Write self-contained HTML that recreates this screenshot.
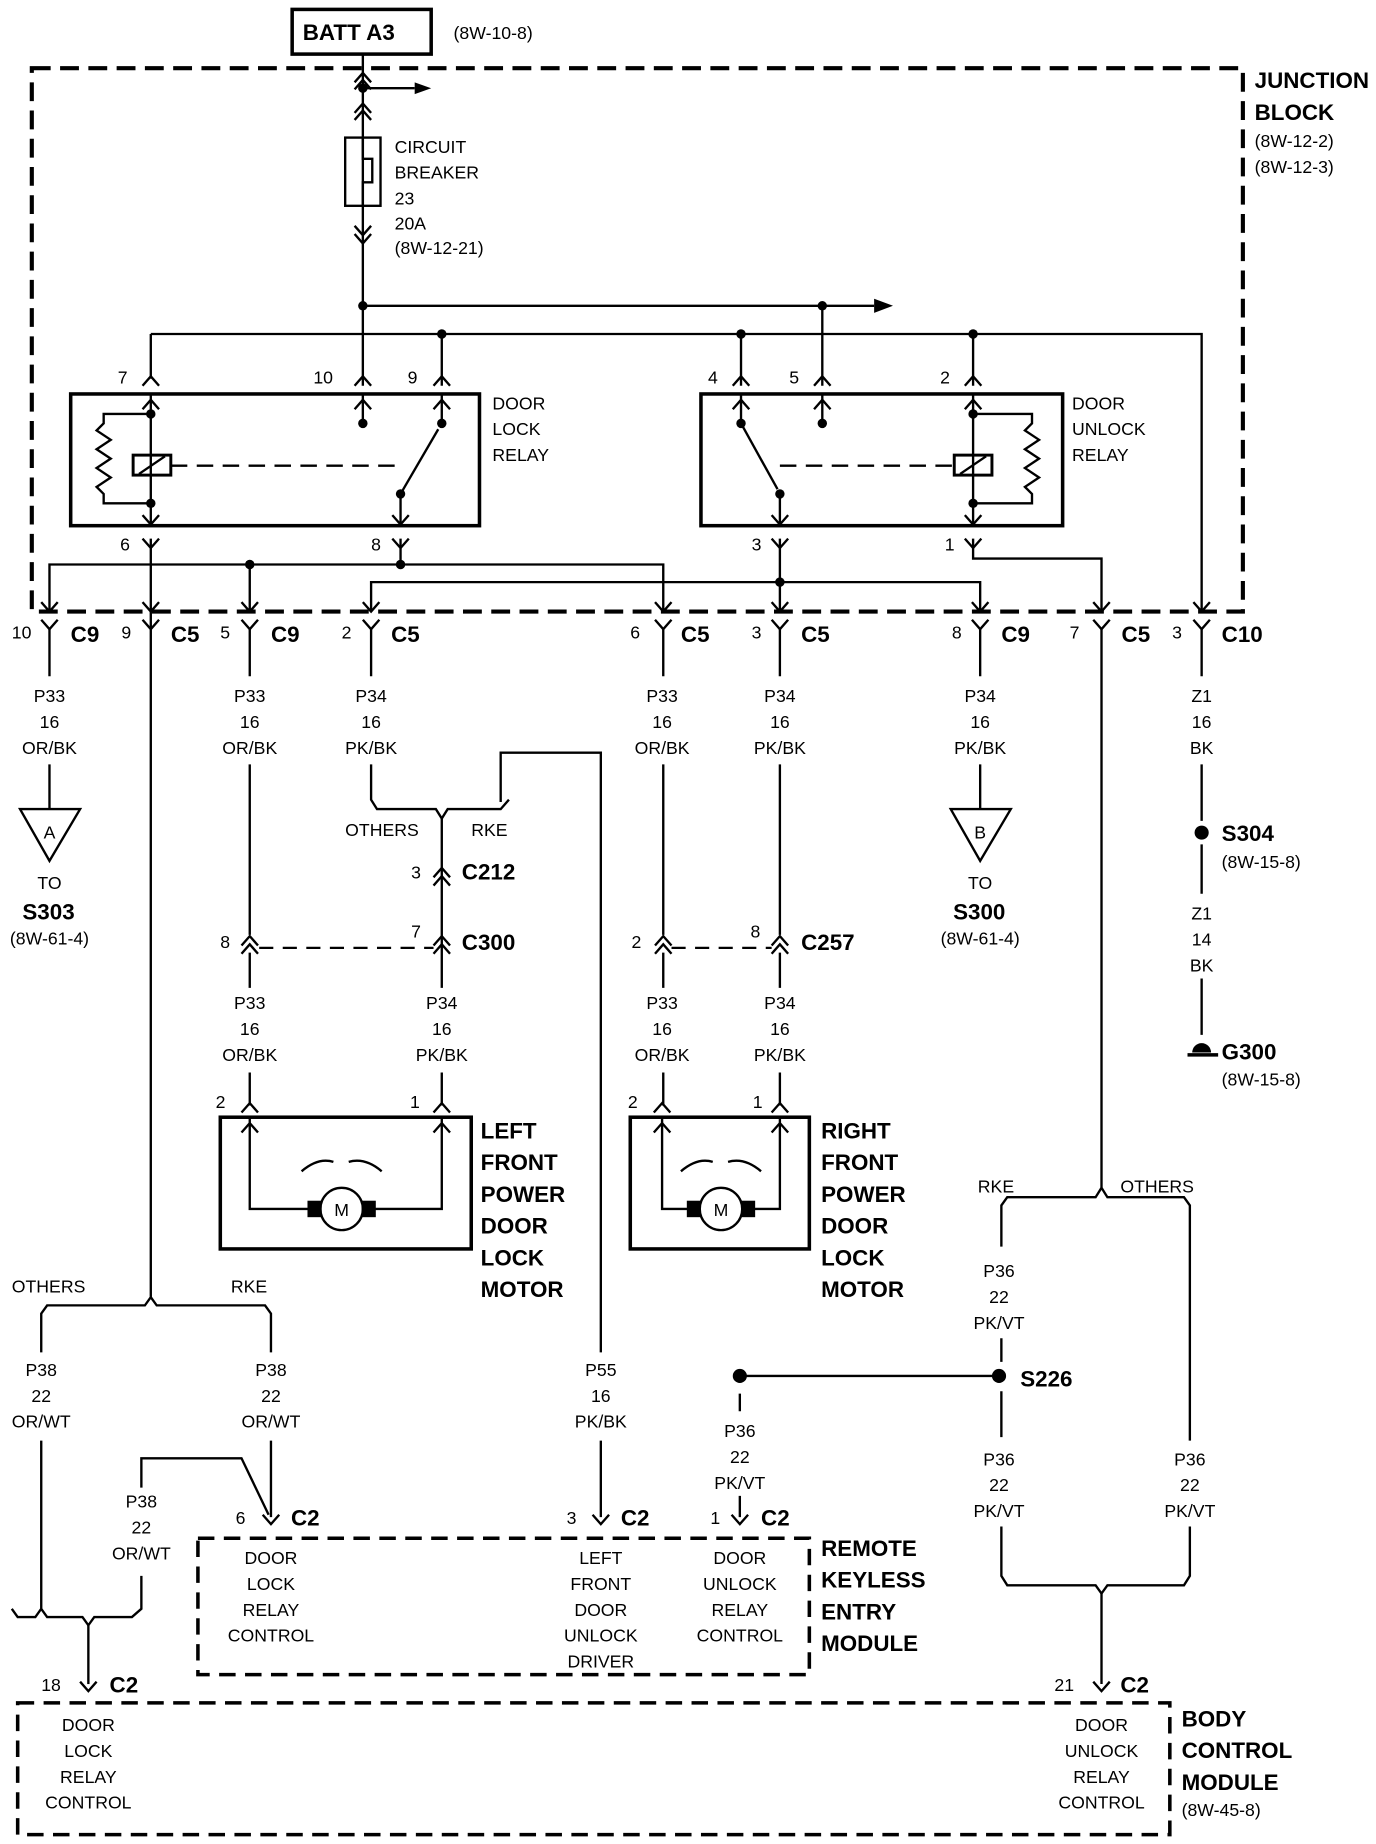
<!DOCTYPE html>
<html><head><meta charset="utf-8"><style>
html,body{margin:0;padding:0;background:#fff;}
svg{display:block;}
text{font-family:"Liberation Sans",sans-serif;fill:#000;}
.s{font-size:15px;}
.b{font-size:19px;font-weight:bold;}
.c{text-anchor:middle;}
</style></head><body>
<svg width="1376" height="1844" viewBox="0 0 1168 1568" preserveAspectRatio="none" xmlns="http://www.w3.org/2000/svg">
<defs>
<path id="v" d="M-7,-8 L0,0 L7,-8" fill="none" stroke="#000" stroke-width="2"/>
<path id="a" d="M-7,8 L0,0 L7,8" fill="none" stroke="#000" stroke-width="2"/>
</defs>
<g stroke="#000" stroke-width="2" fill="none">
<rect x="248" y="8" width="118" height="38" stroke-width="3"/>
<path d="M27,58 H1055 V520 H27 Z" stroke-width="3.5" stroke-dasharray="16,8"/>
<path d="M308,46 V328"/>
<use href="#a" x="308" y="62"/><use href="#a" x="308" y="68"/>
<use href="#a" x="308" y="88"/><use href="#a" x="308" y="94"/>
<path d="M308,75 H352"/>
<rect x="293" y="117" width="30" height="58"/>
<path d="M308,117 V135 H316 V155 H308 V175"/>
<use href="#v" x="308" y="200"/><use href="#v" x="308" y="207"/>
<path d="M308,260 H742"/>
<path d="M698,260 V328"/>
<path d="M128,284 H1020 V520"/>
<path d="M128,284 V322"/><path d="M375,284 V328"/><path d="M629,284 V328"/><path d="M826,284 V328"/>
<use href="#a" x="128" y="320"/><use href="#a" x="308" y="320"/><use href="#a" x="375" y="320"/>
<use href="#a" x="629" y="320"/><use href="#a" x="698" y="320"/><use href="#a" x="826" y="320"/>
<rect x="60" y="335" width="347" height="112" stroke-width="3"/>
<path d="M128,335 V447 M308,335 V360 M375,335 V360 M340,420 V447"/>
<use href="#a" x="128" y="340"/><use href="#a" x="308" y="340"/><use href="#a" x="375" y="340"/>
<use href="#v" x="128" y="446"/><use href="#v" x="340" y="446"/>
<path d="M128,352 H88 L88,360 L82,366 L94,374 L82,382 L94,390 L82,398 L94,406 L82,414 L88,420 V428 H128"/>
<rect x="113" y="387" width="32" height="17" stroke-width="2.5"/>
<path d="M118,403 L140,388"/>
<path d="M145,396 H340" stroke-dasharray="14,8"/>
<path d="M340,420 L372,365"/>
<rect x="595" y="335" width="307" height="112" stroke-width="3"/>
<path d="M629,335 V360 M698,335 V360 M826,335 V447 M662,420 V447"/>
<use href="#a" x="629" y="340"/><use href="#a" x="698" y="340"/><use href="#a" x="826" y="340"/>
<use href="#v" x="662" y="446"/><use href="#v" x="826" y="446"/>
<path d="M826,352 H876 V360 L870,366 L882,374 L870,382 L882,390 L870,398 L882,406 L870,414 L876,420 V428 H826"/>
<rect x="810" y="387" width="32" height="17" stroke-width="2.5"/>
<path d="M815,403 L837,388"/>
<path d="M662,396 H810" stroke-dasharray="14,8"/>
<path d="M629,360 L660,416"/>
<use href="#v" x="128" y="466"/><use href="#v" x="340" y="466"/><use href="#v" x="662" y="466"/><use href="#v" x="826" y="466"/>
<path d="M128,458 V535 M340,458 V480 M662,458 V520 M826,458 V475 H935 V520"/>
<path d="M42,520 V480 H563 V520 M212,480 V520"/>
<path d="M315,520 V495 H832 V520"/>
<g>
<use href="#v" x="42" y="520"/><use href="#v" x="42" y="535"/>
<use href="#v" x="128" y="520"/><use href="#v" x="128" y="535"/>
<use href="#v" x="212" y="520"/><use href="#v" x="212" y="535"/>
<use href="#v" x="315" y="520"/><use href="#v" x="315" y="535"/>
<use href="#v" x="563" y="520"/><use href="#v" x="563" y="535"/>
<use href="#v" x="662" y="520"/><use href="#v" x="662" y="535"/>
<use href="#v" x="832" y="520"/><use href="#v" x="832" y="535"/>
<use href="#v" x="935" y="520"/><use href="#v" x="935" y="535"/>
<use href="#v" x="1020" y="520"/><use href="#v" x="1020" y="535"/>
</g>
<path d="M42,535 V575 M42,650 V688"/>
<path d="M17,688 H68 L42,732 Z"/>
<path d="M832,535 V575 M832,650 V688"/>
<path d="M807,688 H858 L832,732 Z"/>
<path d="M1020,535 V575 M1020,650 V698 M1020,718 V760 M1020,832 V880"/>
<path d="M1008,897 H1034" stroke-width="3"/>
<path d="M212,535 V575 M212,650 V795"/>
<path d="M315,535 V575 M315,650 V680 L320,688 H370 L375,696 L380,688 H425 L432,680 M425,682 V640 H510 V1150"/>
<path d="M375,696 V840 M375,912 V940"/>
<use href="#a" x="375" y="738"/><use href="#a" x="375" y="745"/>
<use href="#a" x="375" y="796"/><use href="#a" x="375" y="803"/>
<use href="#a" x="212" y="796"/><use href="#a" x="212" y="803"/>
<path d="M220,806 H368" stroke-dasharray="12,8"/>
<path d="M212,810 V840 M212,912 V940"/>
<path d="M563,535 V575 M563,650 V795 M563,810 V840 M563,912 V940"/>
<path d="M662,535 V575 M662,650 V795 M662,810 V840 M662,912 V940"/>
<use href="#a" x="563" y="796"/><use href="#a" x="563" y="803"/>
<use href="#a" x="662" y="796"/><use href="#a" x="662" y="803"/>
<path d="M570,806 H655" stroke-dasharray="12,8"/>
<use href="#a" x="212" y="938"/><use href="#a" x="375" y="938"/>
<rect x="187" y="950" width="213" height="112" stroke-width="3"/>
<use href="#a" x="212" y="955"/><use href="#a" x="375" y="955"/>
<path d="M212,950 V1028 H262 M318,1028 H375 V950"/>
<circle cx="290" cy="1028" r="18"/>
<rect x="262" y="1022" width="10" height="12" fill="#000"/><rect x="308" y="1022" width="10" height="12" fill="#000"/>
<path d="M256,996 Q270,984 283,988 M296,988 Q310,984 324,996"/>
<use href="#a" x="562" y="938"/><use href="#a" x="662" y="938"/>
<rect x="535" y="950" width="152" height="112" stroke-width="3"/>
<use href="#a" x="562" y="955"/><use href="#a" x="662" y="955"/>
<path d="M562,950 V1028 H584 M640,1028 H662 V950"/>
<circle cx="612" cy="1028" r="18"/>
<rect x="584" y="1022" width="10" height="12" fill="#000"/><rect x="630" y="1022" width="10" height="12" fill="#000"/>
<path d="M578,996 Q592,984 605,988 M618,988 Q632,984 646,996"/>
<path d="M128,535 V1103 L123,1110 H40 L35,1117 V1150 M128,1103 L133,1110 H225 L230,1117 V1150"/>
<path d="M35,1225 V1368 L30,1375 H15 L10,1368 M35,1368 L40,1375 H70 L75,1382 L80,1375 H112 L120,1368 V1340"/>
<path d="M230,1225 V1290"/>
<path d="M120,1265 V1240 H205 L228,1288"/>
<use href="#v" x="230" y="1296"/>
<path d="M75,1382 V1432"/><use href="#v" x="75" y="1438"/>
<path d="M510,1225 V1290"/><use href="#v" x="510" y="1296"/>
<path d="M628,1185 V1200 M628,1272 V1290"/><use href="#v" x="628" y="1296"/>
<path d="M628,1170 H848"/>
<path d="M935,535 V1010 L930,1018 H855 L850,1025 V1060 M935,1010 L940,1018 H1005 L1010,1025 V1225"/>
<path d="M850,1138 V1158 M850,1183 V1222 M850,1298 V1340 L855,1348 H930 L935,1355 L940,1348 H1005 L1010,1340 V1298"/>
<path d="M935,1355 V1432"/><use href="#v" x="935" y="1438"/>
<path d="M168,1308 H687 V1424 H168 Z" stroke-width="3" stroke-dasharray="14,8"/>
<path d="M15,1448 H993 V1560 H15 Z" stroke-width="3" stroke-dasharray="14,8"/>
</g>
<g fill="#000">
<path d="M742,254 L758,260 L742,266 Z"/>
<path d="M352,70 L366,75 L352,80 Z"/>
<circle cx="308" cy="75" r="4"/><circle cx="308" cy="260" r="4"/><circle cx="698" cy="260" r="4"/>
<circle cx="375" cy="284" r="4"/><circle cx="629" cy="284" r="4"/><circle cx="826" cy="284" r="4"/>
<circle cx="128" cy="352" r="4"/><circle cx="128" cy="428" r="4"/><circle cx="308" cy="360" r="4"/><circle cx="375" cy="360" r="4"/><circle cx="340" cy="420" r="4"/>
<circle cx="629" cy="360" r="4"/><circle cx="698" cy="360" r="4"/><circle cx="662" cy="420" r="4"/><circle cx="826" cy="352" r="4"/><circle cx="826" cy="428" r="4"/>
<circle cx="212" cy="480" r="4"/><circle cx="340" cy="480" r="4"/><circle cx="662" cy="495" r="4"/>
<circle cx="1020" cy="708" r="6"/>
<path d="M1012,895 A8,8 0 0 1 1028,895 Z"/>
<circle cx="628" cy="1170" r="6"/><circle cx="848" cy="1170" r="6"/>
</g>
<text x="257" y="34" class="b">BATT A3</text>
<text x="385" y="33" class="s">(8W-10-8)</text>
<text x="1065" y="75" class="b">JUNCTION</text>
<text x="1065" y="102" class="b">BLOCK</text>
<text x="1065" y="125" class="s">(8W-12-2)</text>
<text x="1065" y="147" class="s">(8W-12-3)</text>
<text x="335" y="130" class="s">CIRCUIT</text><text x="335" y="152" class="s">BREAKER</text><text x="335" y="174" class="s">23</text><text x="335" y="195" class="s">20A</text><text x="335" y="216" class="s">(8W-12-21)</text>
<text x="100" y="326" class="s">7</text><text x="266" y="326" class="s">10</text><text x="346" y="326" class="s">9</text>
<text x="601" y="326" class="s">4</text><text x="670" y="326" class="s">5</text><text x="798" y="326" class="s">2</text>
<text x="418" y="348" class="s">DOOR</text><text x="418" y="370" class="s">LOCK</text><text x="418" y="392" class="s">RELAY</text>
<text x="910" y="348" class="s">DOOR</text><text x="910" y="370" class="s">UNLOCK</text><text x="910" y="392" class="s">RELAY</text>
<text x="102" y="468" class="s">6</text><text x="315" y="468" class="s">8</text><text x="638" y="468" class="s">3</text><text x="802" y="468" class="s">1</text>
<text x="10" y="543" class="s">10</text><text x="60" y="546" class="b">C9</text>
<text x="103" y="543" class="s">9</text><text x="145" y="546" class="b">C5</text>
<text x="187" y="543" class="s">5</text><text x="230" y="546" class="b">C9</text>
<text x="290" y="543" class="s">2</text><text x="332" y="546" class="b">C5</text>
<text x="535" y="543" class="s">6</text><text x="578" y="546" class="b">C5</text>
<text x="638" y="543" class="s">3</text><text x="680" y="546" class="b">C5</text>
<text x="808" y="543" class="s">8</text><text x="850" y="546" class="b">C9</text>
<text x="908" y="543" class="s">7</text><text x="952" y="546" class="b">C5</text>
<text x="995" y="543" class="s">3</text><text x="1037" y="546" class="b">C10</text>
<g>
<text x="42" y="597" class="s c">P33</text><text x="42" y="619" class="s c">16</text><text x="42" y="641" class="s c">OR/BK</text>
<text x="212" y="597" class="s c">P33</text><text x="212" y="619" class="s c">16</text><text x="212" y="641" class="s c">OR/BK</text>
<text x="315" y="597" class="s c">P34</text><text x="315" y="619" class="s c">16</text><text x="315" y="641" class="s c">PK/BK</text>
<text x="562" y="597" class="s c">P33</text><text x="562" y="619" class="s c">16</text><text x="562" y="641" class="s c">OR/BK</text>
<text x="662" y="597" class="s c">P34</text><text x="662" y="619" class="s c">16</text><text x="662" y="641" class="s c">PK/BK</text>
<text x="832" y="597" class="s c">P34</text><text x="832" y="619" class="s c">16</text><text x="832" y="641" class="s c">PK/BK</text>
<text x="1020" y="597" class="s c">Z1</text><text x="1020" y="619" class="s c">16</text><text x="1020" y="641" class="s c">BK</text>
<text x="42" y="713" class="s c">A</text><text x="832" y="713" class="s c">B</text>
<text x="42" y="756" class="s c">TO</text><text x="832" y="756" class="s c">TO</text>
<text x="42" y="803" class="s c">(8W-61-4)</text><text x="832" y="803" class="s c">(8W-61-4)</text>
<text x="1020" y="782" class="s c">Z1</text><text x="1020" y="804" class="s c">14</text><text x="1020" y="826" class="s c">BK</text>
<text x="212" y="858" class="s c">P33</text><text x="212" y="880" class="s c">16</text><text x="212" y="902" class="s c">OR/BK</text>
<text x="375" y="858" class="s c">P34</text><text x="375" y="880" class="s c">16</text><text x="375" y="902" class="s c">PK/BK</text>
<text x="562" y="858" class="s c">P33</text><text x="562" y="880" class="s c">16</text><text x="562" y="902" class="s c">OR/BK</text>
<text x="662" y="858" class="s c">P34</text><text x="662" y="880" class="s c">16</text><text x="662" y="902" class="s c">PK/BK</text>
<text x="290" y="1034" class="s c">M</text><text x="612" y="1034" class="s c">M</text>
<text x="35" y="1170" class="s c">P38</text><text x="35" y="1192" class="s c">22</text><text x="35" y="1214" class="s c">OR/WT</text>
<text x="230" y="1170" class="s c">P38</text><text x="230" y="1192" class="s c">22</text><text x="230" y="1214" class="s c">OR/WT</text>
<text x="120" y="1282" class="s c">P38</text><text x="120" y="1304" class="s c">22</text><text x="120" y="1326" class="s c">OR/WT</text>
<text x="510" y="1170" class="s c">P55</text><text x="510" y="1192" class="s c">16</text><text x="510" y="1214" class="s c">PK/BK</text>
<text x="628" y="1222" class="s c">P36</text><text x="628" y="1244" class="s c">22</text><text x="628" y="1266" class="s c">PK/VT</text>
<text x="848" y="1086" class="s c">P36</text><text x="848" y="1108" class="s c">22</text><text x="848" y="1130" class="s c">PK/VT</text>
<text x="848" y="1246" class="s c">P36</text><text x="848" y="1268" class="s c">22</text><text x="848" y="1290" class="s c">PK/VT</text>
<text x="1010" y="1246" class="s c">P36</text><text x="1010" y="1268" class="s c">22</text><text x="1010" y="1290" class="s c">PK/VT</text>
<text x="230" y="1330" class="s c">DOOR</text><text x="230" y="1352" class="s c">LOCK</text><text x="230" y="1374" class="s c">RELAY</text><text x="230" y="1396" class="s c">CONTROL</text>
<text x="510" y="1330" class="s c">LEFT</text><text x="510" y="1352" class="s c">FRONT</text><text x="510" y="1374" class="s c">DOOR</text><text x="510" y="1396" class="s c">UNLOCK</text><text x="510" y="1418" class="s c">DRIVER</text>
<text x="628" y="1330" class="s c">DOOR</text><text x="628" y="1352" class="s c">UNLOCK</text><text x="628" y="1374" class="s c">RELAY</text><text x="628" y="1396" class="s c">CONTROL</text>
<text x="75" y="1472" class="s c">DOOR</text><text x="75" y="1494" class="s c">LOCK</text><text x="75" y="1516" class="s c">RELAY</text><text x="75" y="1538" class="s c">CONTROL</text>
<text x="935" y="1472" class="s c">DOOR</text><text x="935" y="1494" class="s c">UNLOCK</text><text x="935" y="1516" class="s c">RELAY</text><text x="935" y="1538" class="s c">CONTROL</text>
</g>
<text x="19" y="782" class="b">S303</text><text x="809" y="782" class="b">S300</text>
<text x="1037" y="715" class="b">S304</text><text x="1037" y="738" class="s">(8W-15-8)</text>
<text x="1037" y="901" class="b">G300</text><text x="1037" y="923" class="s">(8W-15-8)</text>
<text x="293" y="711" class="s">OTHERS</text><text x="400" y="711" class="s">RKE</text>
<text x="349" y="747" class="s">3</text><text x="392" y="748" class="b">C212</text>
<text x="349" y="797" class="s">7</text><text x="392" y="808" class="b">C300</text>
<text x="187" y="806" class="s">8</text>
<text x="536" y="806" class="s">2</text><text x="637" y="797" class="s">8</text><text x="680" y="808" class="b">C257</text>
<text x="183" y="942" class="s">2</text><text x="348" y="942" class="s">1</text>
<text x="533" y="942" class="s">2</text><text x="639" y="942" class="s">1</text>
<text x="408" y="968" class="b">LEFT</text><text x="408" y="995" class="b">FRONT</text><text x="408" y="1022" class="b">POWER</text><text x="408" y="1049" class="b">DOOR</text><text x="408" y="1076" class="b">LOCK</text><text x="408" y="1103" class="b">MOTOR</text>
<text x="697" y="968" class="b">RIGHT</text><text x="697" y="995" class="b">FRONT</text><text x="697" y="1022" class="b">POWER</text><text x="697" y="1049" class="b">DOOR</text><text x="697" y="1076" class="b">LOCK</text><text x="697" y="1103" class="b">MOTOR</text>
<text x="830" y="1014" class="s">RKE</text><text x="951" y="1014" class="s">OTHERS</text>
<text x="10" y="1099" class="s">OTHERS</text><text x="196" y="1099" class="s">RKE</text>
<text x="866" y="1179" class="b">S226</text>
<text x="200" y="1296" class="s">6</text><text x="247" y="1297" class="b">C2</text>
<text x="481" y="1296" class="s">3</text><text x="527" y="1297" class="b">C2</text>
<text x="603" y="1296" class="s">1</text><text x="646" y="1297" class="b">C2</text>
<text x="697" y="1323" class="b">REMOTE</text><text x="697" y="1350" class="b">KEYLESS</text><text x="697" y="1377" class="b">ENTRY</text><text x="697" y="1404" class="b">MODULE</text>
<text x="35" y="1438" class="s">18</text><text x="93" y="1439" class="b">C2</text>
<text x="895" y="1438" class="s">21</text><text x="951" y="1439" class="b">C2</text>
<text x="1003" y="1468" class="b">BODY</text><text x="1003" y="1495" class="b">CONTROL</text><text x="1003" y="1522" class="b">MODULE</text><text x="1003" y="1544" class="s">(8W-45-8)</text>
</svg>
</body></html>
